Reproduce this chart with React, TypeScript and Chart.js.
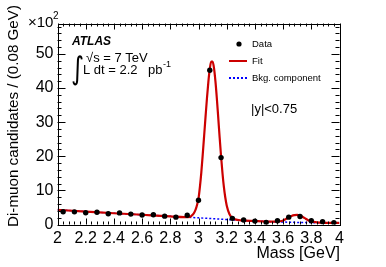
import React, { useEffect, useRef } from "react";
import { Chart, registerables } from "chart.js";

Chart.register(...registerables);

// ---- data (units: x10^2 candidates per 0.08 GeV) ----
const binCenters = [
  2.04, 2.12, 2.2, 2.28, 2.36, 2.44, 2.52, 2.6, 2.68, 2.76, 2.84, 2.92, 3.0,
  3.08, 3.16, 3.24, 3.32, 3.4, 3.48, 3.56, 3.64, 3.72, 3.8, 3.88, 3.96,
];
const counts = [
  3.75, 3.7, 3.45, 3.6, 3.15, 3.4, 3.05, 2.8, 2.85, 2.45, 2.15, 2.7, 7.1,
  45.2, 19.6, 1.8, 1.3, 1.0, 0.6, 1.1, 2.15, 2.35, 1.1, 0.8, 0.5,
];

const fitMass = [
  2.0, 2.2, 2.4, 2.6, 2.8, 2.9, 2.94, 2.96, 2.97, 2.98, 2.99, 3.0, 3.01, 3.02,
  3.03, 3.04, 3.05, 3.06, 3.07, 3.08, 3.09, 3.1, 3.11, 3.12, 3.13, 3.14, 3.15,
  3.16, 3.17, 3.18, 3.19, 3.2, 3.22, 3.24, 3.26, 3.3, 3.4, 3.5, 3.56, 3.58,
  3.6, 3.62, 3.64, 3.66, 3.68, 3.7, 3.72, 3.74, 3.76, 3.78, 3.8, 3.84, 3.9, 4.0,
];
const fitValues = [
  4.3, 3.8, 3.3, 2.85, 2.4, 2.15, 2.25, 2.9, 3.5, 4.4, 5.8, 7.6, 11.0, 15.3,
  20.5, 26.0, 31.6, 37.0, 41.8, 45.6, 47.7, 47.7, 45.8, 42.0, 37.0, 31.3, 25.5,
  20.0, 15.1, 11.0, 7.9, 5.6, 3.0, 1.9, 1.5, 1.22, 1.02, 0.85, 0.82, 0.95,
  1.2, 1.6, 2.05, 2.5, 2.75, 2.8, 2.6, 2.2, 1.7, 1.2, 0.9, 0.6, 0.5, 0.45,
];

const bkgMass = [2.0, 2.4, 2.8, 3.0, 3.2, 3.3, 3.5, 3.7, 3.9, 4.0];
const bkgValues = [4.3, 3.3, 2.4, 1.95, 1.45, 1.22, 0.86, 0.62, 0.5, 0.45];

const X_MIN = 2;
const X_MAX = 4;
const Y_MIN = 0;
const Y_MAX = 58.9;
const X_MAJOR = 0.2;
const X_MINOR_PER_MAJOR = 5;
const Y_MAJOR = 10;
const Y_MINOR_PER_MAJOR = 5;

const FONT = '"Liberation Sans", Arial, Helvetica, sans-serif';

const rootStylePlugin = {
  id: "rootStyle",
  afterDraw(chart: any) {
    const { ctx, chartArea: a, scales } = chart;
    const xs = scales.x;
    const ys = scales.y;
    ctx.save();
    // frame
    ctx.strokeStyle = "#000";
    ctx.lineWidth = 1;
    ctx.strokeRect(
      Math.round(a.left) + 0.5,
      Math.round(a.top) + 0.5,
      Math.round(a.right) - Math.round(a.left),
      Math.round(a.bottom) - Math.round(a.top)
    );
    // ticks (inward, mirrored)
    ctx.beginPath();
    const nx = Math.round((X_MAX - X_MIN) / X_MAJOR) * X_MINOR_PER_MAJOR;
    for (let i = 0; i <= nx; i++) {
      const v = X_MIN + (i * X_MAJOR) / X_MINOR_PER_MAJOR;
      const px = Math.round(xs.getPixelForValue(v)) + 0.5;
      const len = i % X_MINOR_PER_MAJOR === 0 ? 6 : 3;
      ctx.moveTo(px, a.bottom);
      ctx.lineTo(px, a.bottom - len);
      ctx.moveTo(px, a.top);
      ctx.lineTo(px, a.top + len);
    }
    const ystep = Y_MAJOR / Y_MINOR_PER_MAJOR;
    for (let i = 0; i * ystep <= Y_MAX; i++) {
      const v = Y_MIN + i * ystep;
      const py = Math.round(ys.getPixelForValue(v)) + 0.5;
      const len = i % Y_MINOR_PER_MAJOR === 0 ? 8 : 4;
      ctx.moveTo(a.left, py);
      ctx.lineTo(a.left + len, py);
      ctx.moveTo(a.right, py);
      ctx.lineTo(a.right - len, py);
    }
    ctx.stroke();

    ctx.fillStyle = "#000";
    // x10^2
    ctx.textBaseline = "alphabetic";
    ctx.textAlign = "left";
    ctx.font = `15px ${FONT}`;
    ctx.fillText("\u00d710", 28, 27);
    ctx.font = `10px ${FONT}`;
    ctx.fillText("2", 53, 19);

    // axis titles
    ctx.font = `16px ${FONT}`;
    ctx.textAlign = "right";
    ctx.fillText("Mass [GeV]", 340, 258);
    ctx.save();
    ctx.translate(14, 5);
    ctx.rotate(-Math.PI / 2);
    ctx.font = `15.2px ${FONT}`;
    ctx.textAlign = "right";
    ctx.textBaseline = "middle";
    ctx.fillText("Di-muon candidates / (0.08 GeV)", 0, 0);
    ctx.restore();

    // ATLAS label
    ctx.textAlign = "left";
    ctx.textBaseline = "alphabetic";
    ctx.font = `italic bold 12px ${FONT}`;
    ctx.fillText("ATLAS", 72, 45);
    ctx.save();
    ctx.translate(71, 79);
    ctx.scale(1, 1.25);
    ctx.font = `25px "DejaVu Sans", ${FONT}`;
    ctx.fillText("\u222b", 0, 0);
    ctx.restore();
    ctx.font = `13px ${FONT}`;
    ctx.fillText("\u221as = 7 TeV", 86, 62);
    ctx.fillText("L dt = 2.2", 83, 74);
    ctx.fillText("pb", 148, 74);
    ctx.font = `9px ${FONT}`;
    ctx.fillText("-1", 163, 67);

    // legend
    ctx.font = `9.5px ${FONT}`;
    ctx.textBaseline = "middle";
    ctx.beginPath();
    ctx.arc(239, 44, 2.6, 0, Math.PI * 2);
    ctx.fill();
    ctx.fillText("Data", 252, 44);
    ctx.strokeStyle = "#cc0000";
    ctx.lineWidth = 2;
    ctx.beginPath();
    ctx.moveTo(229, 61);
    ctx.lineTo(247, 61);
    ctx.stroke();
    ctx.fillText("Fit", 252, 61);
    ctx.strokeStyle = "#0000ff";
    ctx.setLineDash([2, 2]);
    ctx.beginPath();
    ctx.moveTo(229, 78);
    ctx.lineTo(247, 78);
    ctx.stroke();
    ctx.setLineDash([]);
    ctx.fillText("Bkg. component", 252, 78);

    ctx.font = `13px ${FONT}`;
    ctx.fillText("|y|<0.75", 251, 109);
    ctx.restore();
  },
};

export default function App() {
  const ref = useRef<HTMLCanvasElement>(null);
  useEffect(() => {
    if (!ref.current) return;
    const chart = new Chart(ref.current, {
      type: "scatter",
      data: {
        datasets: [
          {
            label: "Data",
            data: binCenters.map((x, i) => ({ x, y: counts[i] })),
            pointRadius: 2.7,
            pointBackgroundColor: "#000",
            pointBorderWidth: 0,
            showLine: false,
            order: 0,
          } as any,
          {
            type: "line",
            label: "Fit",
            data: fitMass.map((x, i) => ({ x, y: fitValues[i] })),
            borderColor: "#cc0000",
            borderWidth: 2.2,
            pointRadius: 0,
            cubicInterpolationMode: "monotone",
            fill: false,
            order: 1,
          } as any,
          {
            type: "line",
            label: "Bkg. component",
            data: bkgMass.map((x, i) => ({ x, y: bkgValues[i] })),
            borderColor: "#0000ff",
            borderWidth: 1.5,
            borderDash: [2, 2],
            pointRadius: 0,
            cubicInterpolationMode: "monotone",
            fill: false,
            order: 2,
          } as any,
        ],
      },
      options: {
        responsive: false,
        animation: false,
        layout: { padding: { top: 23.5, right: 46.5, left: 0, bottom: 0 } },
        plugins: { legend: { display: false }, tooltip: { enabled: false } },
        scales: {
          x: {
            type: "linear",
            min: X_MIN,
            max: X_MAX,
            grid: { display: false, drawTicks: false },
            border: { display: false },
            ticks: {
              stepSize: X_MAJOR,
              autoSkip: false,
              maxRotation: 0,
              padding: 4,
              color: "#000",
              font: { size: 16, family: FONT },
              callback: (v: any) => String(Number(Number(v).toFixed(1))),
            },
            afterFit: (s: any) => {
              s.height = 42.5;
            },
          },
          y: {
            type: "linear",
            min: Y_MIN,
            max: Y_MAX,
            grid: { display: false, drawTicks: false },
            border: { display: false },
            ticks: {
              stepSize: Y_MAJOR,
              includeBounds: false,
              padding: 4,
              color: "#000",
              font: { size: 16, family: FONT },
            },
            afterFit: (s: any) => {
              s.width = 57.5;
            },
          },
        },
      } as any,
      plugins: [rootStylePlugin],
    });
    return () => chart.destroy();
  }, []);
  return (
    <div style={{ position: "absolute", left: 0, top: 0, width: 386, height: 267, background: "#fff" }}>
      <canvas ref={ref} width={386} height={267} />
    </div>
  );
}
